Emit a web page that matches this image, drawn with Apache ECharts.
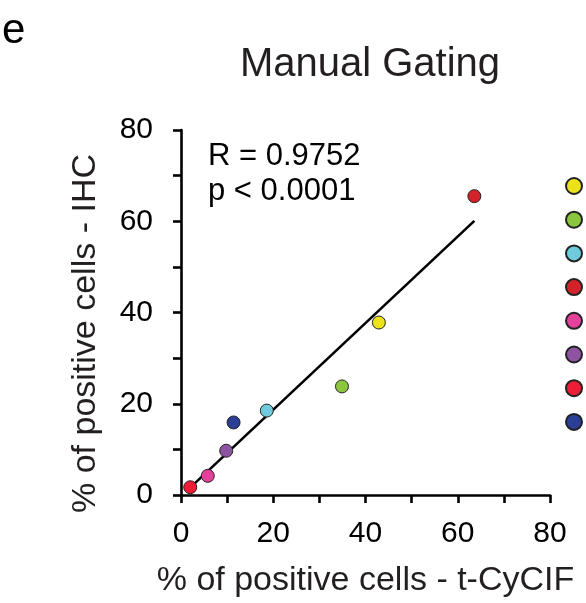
<!DOCTYPE html>
<html>
<head>
<meta charset="utf-8">
<script src="https://cdn.jsdelivr.net/npm/echarts@6/dist/echarts.min.js"></script>
<style>
  html, body { margin: 0; padding: 0; background: #fff; }
  #main { width: 586px; height: 603px; }
</style>
</head>
<body>
<div id="main"></div>
<script>
const font = "'Liberation Sans', Arial, sans-serif"

// samples, in legend order
const sampleNames = ['S1', 'S2', 'S3', 'S4', 'S5', 'S6', 'S7', 'S8']
const sampleColors = ['#ebe21c', '#8cc63f', '#6fcbdb', '#d2232a', '#e2429a', '#8e54a1', '#ee1c36', '#2b3f96']
const cycifValues = [42.9, 34.9, 18.6, 63.6, 5.8, 9.8, 2.0, 11.4]
const ihcValues = [37.8, 23.8, 18.5, 65.5, 4.2, 9.7, 1.7, 15.9]

const statR = 'R = 0.9752'
const statP = 'p < 0.0001'

// least squares fit over the points
let n = cycifValues.length
let mx = cycifValues.reduce((a, b) => a + b, 0) / n
let my = ihcValues.reduce((a, b) => a + b, 0) / n
let sxy = 0, sxx = 0
for (let i = 0; i < n; i++) {
    sxy += (cycifValues[i] - mx) * (ihcValues[i] - my)
    sxx += (cycifValues[i] - mx) * (cycifValues[i] - mx)
}
let slope = sxy / sxx
let icpt = my - slope * mx
let x0 = Math.min(...cycifValues)
let x1 = Math.max(...cycifValues)
const fitLine = [[x0, icpt + slope * x0], [x1, icpt + slope * x1]]

const myChart = echarts.init(document.getElementById('main'))

const axisStyle = {
    axisLine: { show: true, lineStyle: { color: '#000', width: 2.6 } },
    axisTick: { show: true, length: 8, lineStyle: { color: '#000', width: 2.6 } },
    splitLine: { show: false },
    nameTextStyle: { color: '#231f20', fontSize: 34, fontFamily: font }
}
const labelStyle = {
    color: '#000', fontSize: 30, fontFamily: font,
    formatter: v => (v % 20 === 0 ? String(v) : '')
}

let series = sampleNames.map((name, i) => ({
    name: name,
    type: 'scatter',
    symbolSize: 13,
    z: 3,
    itemStyle: { color: sampleColors[i], opacity: 1, borderColor: '#222', borderWidth: 1 },
    data: [[cycifValues[i], ihcValues[i]]]
}))

series.unshift({
    name: 'fit',
    type: 'line',
    symbol: 'none',
    z: 2,
    lineStyle: { color: '#000', width: 2.6 },
    data: fitLine
})

myChart.setOption({
    animation: false,
    title: {
        text: 'Manual Gating',
        left: 365,
        top: 40,
        textAlign: 'center',
        textStyle: { color: '#231f20', fontSize: 40, fontWeight: 'normal', fontFamily: font }
    },
    legend: {
        data: sampleNames,
        orient: 'vertical',
        left: 560,
        top: 172,
        itemWidth: 16,
        itemHeight: 16,
        itemGap: 15.7,
        icon: 'circle',
        formatter: () => '',
        selectedMode: false
    },
    grid: { left: 181, right: 36, top: 130, bottom: 105, containLabel: false },
    xAxis: Object.assign({}, axisStyle, {
        type: 'value', min: 0, max: 80, interval: 10,
        axisLabel: Object.assign({ margin: 24 }, labelStyle),
        name: '% of positive cells - t-CyCIF',
        nameLocation: 'middle',
        nameGap: 69
    }),
    yAxis: Object.assign({}, axisStyle, {
        type: 'value', min: 0, max: 80, interval: 10,
        axisLabel: Object.assign({ margin: 28 }, labelStyle),
        name: '% of positive cells - IHC',
        nameLocation: 'middle',
        nameGap: 78,
        nameTextStyle: { color: '#231f20', fontSize: 34, fontFamily: font, padding: [0, 42, 0, 0] }
    }),
    graphic: [
        { type: 'text', left: 2, top: 10, style: { text: 'e', font: '42px ' + font, fill: '#000' } },
        { type: 'text', left: 208, top: 141, style: { text: statR, font: '31px ' + font, fill: '#000' } },
        { type: 'text', left: 208, top: 176, style: { text: statP, font: '31px ' + font, fill: '#000' } }
    ],
    series: series
})
</script>
</body>
</html>
